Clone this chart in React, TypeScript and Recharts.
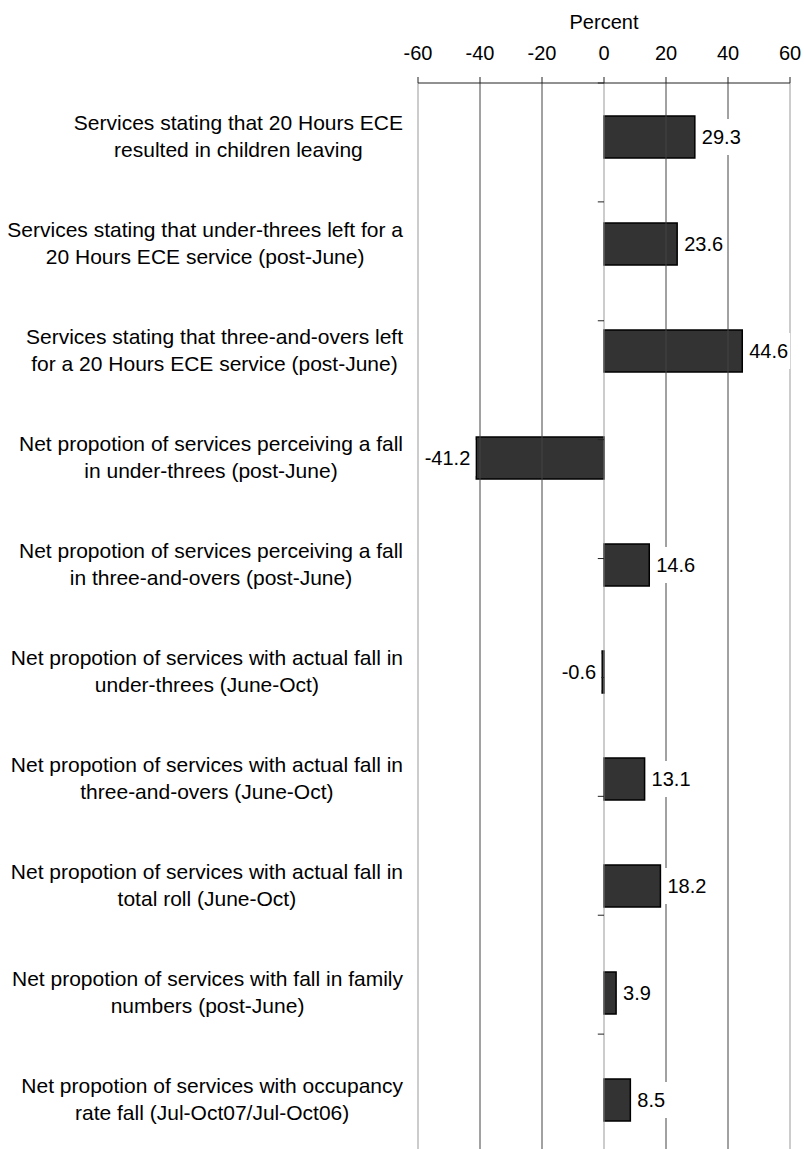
import React from 'react';
import { BarChart, Bar, XAxis, YAxis, LabelList, ReferenceLine, Label } from 'recharts';

const categories = [
  'Services stating that 20 Hours ECE\nresulted in children leaving',
  'Services stating that under-threes left for a\n20 Hours ECE service (post-June)',
  'Services stating that three-and-overs left\nfor a 20 Hours ECE service (post-June)',
  'Net propotion of services perceiving a fall\nin under-threes (post-June)',
  'Net propotion of services perceiving a fall\nin three-and-overs (post-June)',
  'Net propotion of services with actual fall in\nunder-threes (June-Oct)',
  'Net propotion of services with actual fall in\nthree-and-overs (June-Oct)',
  'Net propotion of services with actual fall in\ntotal roll (June-Oct)',
  'Net propotion of services with fall in family\nnumbers (post-June)',
  'Net propotion of services with occupancy\nrate fall (Jul-Oct07/Jul-Oct06)',
];
const values = [29.3, 23.6, 44.6, -41.2, 14.6, -0.6, 13.1, 18.2, 3.9, 8.5];
const percentTicks = [-60, -40, -20, 0, 20, 40, 60];
const boundaries = [1, 2, 3, 4, 5, 6, 7, 8, 9];

const data = categories.map((name, i) => ({ name, value: values[i] }));

const FONT = '"Liberation Sans", Arial, Helvetica, sans-serif';
const FONT_SIZE = 20;
const CAT_FONT_SIZE = 21;

let ctx: CanvasRenderingContext2D | null = null;
const measure = (s: string, size = FONT_SIZE) => {
  if (!ctx) {
    ctx = document.createElement('canvas').getContext('2d');
  }
  if (!ctx) return s.length * size * 0.5;
  ctx.font = `${size}px ${FONT}`;
  return ctx.measureText(s).width;
};

const CategoryTick = (props: any) => {
  const { y, payload } = props;
  const lines: string[] = String(payload.value).split('\n');
  const w = Math.max(...lines.map((l) => measure(l, CAT_FONT_SIZE)));
  const cx = 403 - w / 2;
  const lh = 27;
  return (
    <g>
      {lines.map((l, i) => (
        <text
          key={i}
          x={cx}
          y={y + (i - (lines.length - 1) / 2) * lh}
          dy="0.35em"
          textAnchor="middle"
          fontFamily={FONT}
          fontSize={CAT_FONT_SIZE}
          fill="#000"
        >
          {l}
        </text>
      ))}
    </g>
  );
};

const ValueLabel = (props: any) => {
  const { x, y, width, height, value } = props;
  const left = Math.min(x, x + width);
  const right = Math.max(x, x + width);
  const cy = y + height / 2;
  const txt = String(value);
  const tw = measure(txt);
  const pos = value >= 0;
  const tx = pos ? right + 7 : left - 6;
  const rx = pos ? right + 2 : left - 6 - tw - 2;
  return (
    <g>
      <rect x={rx} y={cy - 18} width={tw + 7} height={36} fill="#fff" />
      <text
        x={tx}
        y={cy}
        dy="0.35em"
        textAnchor={pos ? 'start' : 'end'}
        fontFamily={FONT}
        fontSize={FONT_SIZE}
        fill="#000"
      >
        {txt}
      </text>
    </g>
  );
};

const App: React.FC = () => {
  return (
    <div style={{ position: 'absolute', left: 0, top: 0, width: 804, height: 1149, overflow: 'hidden', background: '#fff' }}>
      <BarChart
        width={804}
        height={1160}
        data={data}
        layout="vertical"
        margin={{ top: 0, right: 14, left: 0, bottom: 7 }}
      >
        {/* gridlines: outer and zero lines lighter */}
        {percentTicks.map((t) => (
          <ReferenceLine
            key={`g${t}`}
            x={t}
            stroke={t === -60 || t === 60 || t === 0 ? '#999' : '#444'}
            strokeWidth={1}
          />
        ))}
        <XAxis
          type="number"
          orientation="top"
          domain={[-60, 60]}
          ticks={percentTicks}
          height={83}
          tickSize={6}
          tickMargin={17}
          tick={{ fill: '#000', fontSize: FONT_SIZE, fontFamily: FONT }}
          stroke="#222"
          interval={0}
        >
          <Label
            content={(p: any) => {
              const vb = p.viewBox;
              return (
                <text x={vb.x + vb.width / 2} y={29} textAnchor="middle" fontFamily={FONT} fontSize={FONT_SIZE} fill="#000">
                  Percent
                </text>
              );
            }}
          />
        </XAxis>
        <YAxis
          type="category"
          dataKey="name"
          width={418}
          axisLine={false}
          tickLine={false}
          tick={<CategoryTick />}
          interval={0}
        />
        <YAxis yAxisId="n" type="number" domain={[0, 10]} reversed hide />
        {boundaries.map((b) => (
          <ReferenceLine
            key={b}
            yAxisId="n"
            segment={[{ x: -2, y: b }, { x: 0, y: b }]}
            stroke="#222"
            strokeWidth={1}
          />
        ))}
        <Bar dataKey="value" fill="#333" stroke="#000" strokeWidth={1.5} barSize={42} isAnimationActive={false}>
          <LabelList dataKey="value" content={<ValueLabel />} />
        </Bar>
      </BarChart>
    </div>
  );
};

export default App;
